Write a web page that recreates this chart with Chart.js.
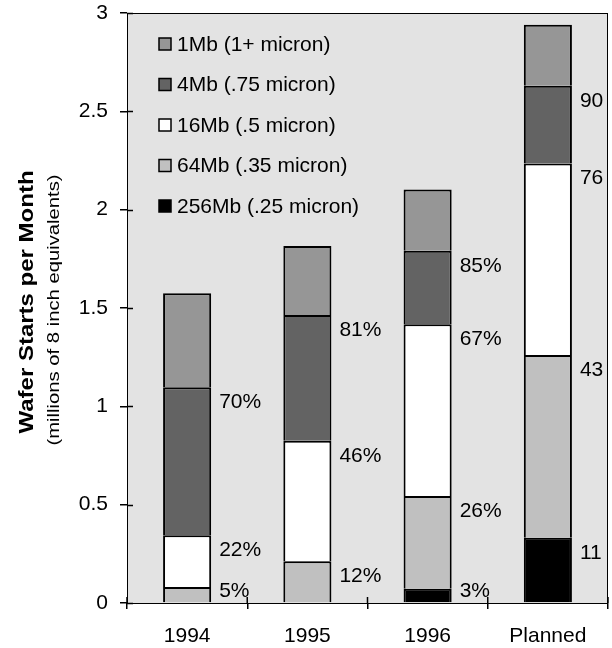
<!DOCTYPE html>
<html>
<head>
<meta charset="utf-8">
<script src="https://cdn.jsdelivr.net/npm/chart.js@4.4.1/dist/chart.umd.min.js"></script>
<style>
  html, body { margin: 0; padding: 0; background: #fff; }
  #wrap { width: 612px; height: 648px; }
</style>
</head>
<body>
<div id="wrap"><canvas id="chart" width="612" height="648"></canvas></div>
<script>
// ── Data (millions of 8 inch wafer starts per month) ─────────────────────
const years   = ['1994', '1995', '1996', 'Planned'];
const mb256   = [0,     0,     0.073, 0.332];
const mb64    = [0.081, 0.212, 0.471, 0.929];
const mb16    = [0.263, 0.613, 0.874, 0.974];
const mb4     = [0.753, 0.639, 0.373, 0.395];
const mb1     = [0.478, 0.351, 0.312, 0.310];

// cumulative share labels, shown at the top of each segment
const pct256  = ['', '', '3%', '11'];
const pct64   = ['5%', '12%', '26%', '43'];
const pct16   = ['22%', '46%', '67%', '76'];
const pct4    = ['70%', '81%', '85%', '90'];

const yTicks  = [0, 0.5, 1, 1.5, 2, 2.5, 3];

const seriesNames = ['256Mb (.25 micron)', '64Mb (.35 micron)', '16Mb (.5 micron)', '4Mb (.75 micron)', '1Mb (1+ micron)'];

// ── Styles ───────────────────────────────────────────────────────────────
const FONT     = '"Liberation Sans", Arial, sans-serif';
const PLOT_BG  = '#e3e3e3';
const COLORS   = ['#000000', '#c0c0c0', '#ffffff', '#636363', '#969696'];

const seriesData   = [mb256, mb64, mb16, mb4, mb1];
const seriesLabels = [pct256, pct64, pct16, pct4, null];

// plot background + frame + inner halves of the tick marks
const plotFrame = {
  id: 'plotFrame',
  beforeDatasetsDraw(chart) {
    const { ctx, chartArea: a } = chart;
    ctx.save();
    ctx.fillStyle = PLOT_BG;
    ctx.fillRect(a.left, a.top, a.right - a.left, a.bottom - a.top);
    ctx.restore();
  },
  afterDatasetsDraw(chart) {
    const { ctx, chartArea: a, scales } = chart;
    ctx.save();
    ctx.strokeStyle = '#000';
    ctx.lineWidth = 1;
    ctx.strokeRect(a.left + 0.5, a.top + 0.5, a.right - a.left - 1, a.bottom - a.top);
    ctx.lineWidth = 1.5;
    ctx.beginPath();
    yTicks.forEach(v => {
      const y = Math.round(scales.y.getPixelForValue(v)) + 0.5;
      ctx.moveTo(a.left, y); ctx.lineTo(a.left + 6, y);
    });
    for (let i = 0; i <= years.length; i++) {
      const x = a.left + (a.right - a.left) * i / years.length;
      ctx.moveTo(x, a.bottom); ctx.lineTo(x, a.bottom - 6);
    }
    ctx.stroke();
    ctx.restore();
  }
};

// share labels to the right of the bars
const shareLabels = {
  id: 'shareLabels',
  afterDatasetsDraw(chart) {
    const { ctx, chartArea: a } = chart;
    ctx.save();
    ctx.font = '21px ' + FONT;
    ctx.fillStyle = '#000';
    ctx.textAlign = 'left';
    ctx.textBaseline = 'middle';
    seriesLabels.forEach((labels, di) => {
      if (!labels) return;
      const meta = chart.getDatasetMeta(di);
      labels.forEach((txt, i) => {
        if (!txt) return;
        const bar = meta.data[i];
        const y = Math.min(bar.y + 15, a.bottom - 12);
        ctx.fillText(txt, bar.x + bar.width / 2 + 8, y);
      });
    });
    ctx.restore();
  }
};

// legend box inside the plot, top series first
const innerLegend = {
  id: 'innerLegend',
  afterDraw(chart) {
    const { ctx, chartArea: a } = chart;
    ctx.save();
    ctx.font = '21px ' + FONT;
    ctx.textBaseline = 'middle';
    ctx.fillStyle = '#000';
    const order = [4, 3, 2, 1, 0];
    order.forEach((di, row) => {
      const y = a.top + 31 + row * 40.5;
      const x = a.left + 32;
      ctx.fillStyle = COLORS[di];
      ctx.fillRect(x, y - 6, 12, 12);
      ctx.strokeStyle = '#000';
      ctx.lineWidth = 1.5;
      ctx.strokeRect(x, y - 6, 12, 12);
      ctx.fillStyle = '#000';
      ctx.fillText(seriesNames[di], x + 18, y + 1);
    });
    ctx.restore();
  }
};

// two-line y axis title (stretched like the original)
const yTitle = {
  id: 'yTitle',
  afterDraw(chart) {
    const { ctx, chartArea: a } = chart;
    const mid = (a.top + a.bottom) / 2;
    ctx.save();
    ctx.fillStyle = '#000';
    ctx.textAlign = 'center';
    ctx.textBaseline = 'middle';

    ctx.save();
    ctx.translate(27, mid - 6);
    ctx.rotate(-Math.PI / 2);
    ctx.scale(1.2, 1);
    ctx.font = 'bold 20px ' + FONT;
    ctx.fillText('Wafer Starts per Month', 0, 0);
    ctx.restore();

    ctx.save();
    ctx.translate(54, mid + 2);
    ctx.rotate(-Math.PI / 2);
    ctx.scale(1.19, 1);
    ctx.font = '17px ' + FONT;
    ctx.fillText('(millions of 8 inch equivalents)', 0, 0);
    ctx.restore();

    ctx.restore();
  }
};

// ── Chart ────────────────────────────────────────────────────────────────
Chart.defaults.font.family = FONT;
Chart.defaults.color = '#000';

new Chart(document.getElementById('chart'), {
  type: 'bar',
  data: {
    labels: years,
    datasets: seriesData.map((d, i) => ({
      label: seriesNames[i],
      data: d,
      backgroundColor: COLORS[i],
      borderColor: '#000',
      borderWidth: 2,
      barPercentage: 0.4,
      categoryPercentage: 1.0,
    }))
  },
  options: {
    responsive: false,
    animation: false,
    devicePixelRatio: 1,
    layout: { padding: { top: 0, right: 4, left: 0, bottom: 0 } },
    scales: {
      x: {
        stacked: true,
        grid: { drawOnChartArea: false, tickLength: 6, color: '#000', lineWidth: 1.5, offset: true },
        border: { display: false },
        ticks: { font: { size: 21 }, padding: 15 },
        afterFit: s => { s.height = 45; s.paddingLeft = 0; s.paddingRight = 0; }
      },
      y: {
        stacked: true,
        min: 0,
        max: 3,
        grid: { drawOnChartArea: false, tickLength: 7, color: '#000', lineWidth: 1.5 },
        border: { display: false },
        ticks: { stepSize: 0.5, font: { size: 21 }, padding: 12, callback: v => String(v) },
        afterFit: s => { s.width = 127; s.paddingTop = 13; s.paddingBottom = 0; }
      }
    },
    plugins: {
      legend: { display: false },
      tooltip: { enabled: false }
    }
  },
  plugins: [plotFrame, shareLabels, innerLegend, yTitle]
});
</script>
</body>
</html>
